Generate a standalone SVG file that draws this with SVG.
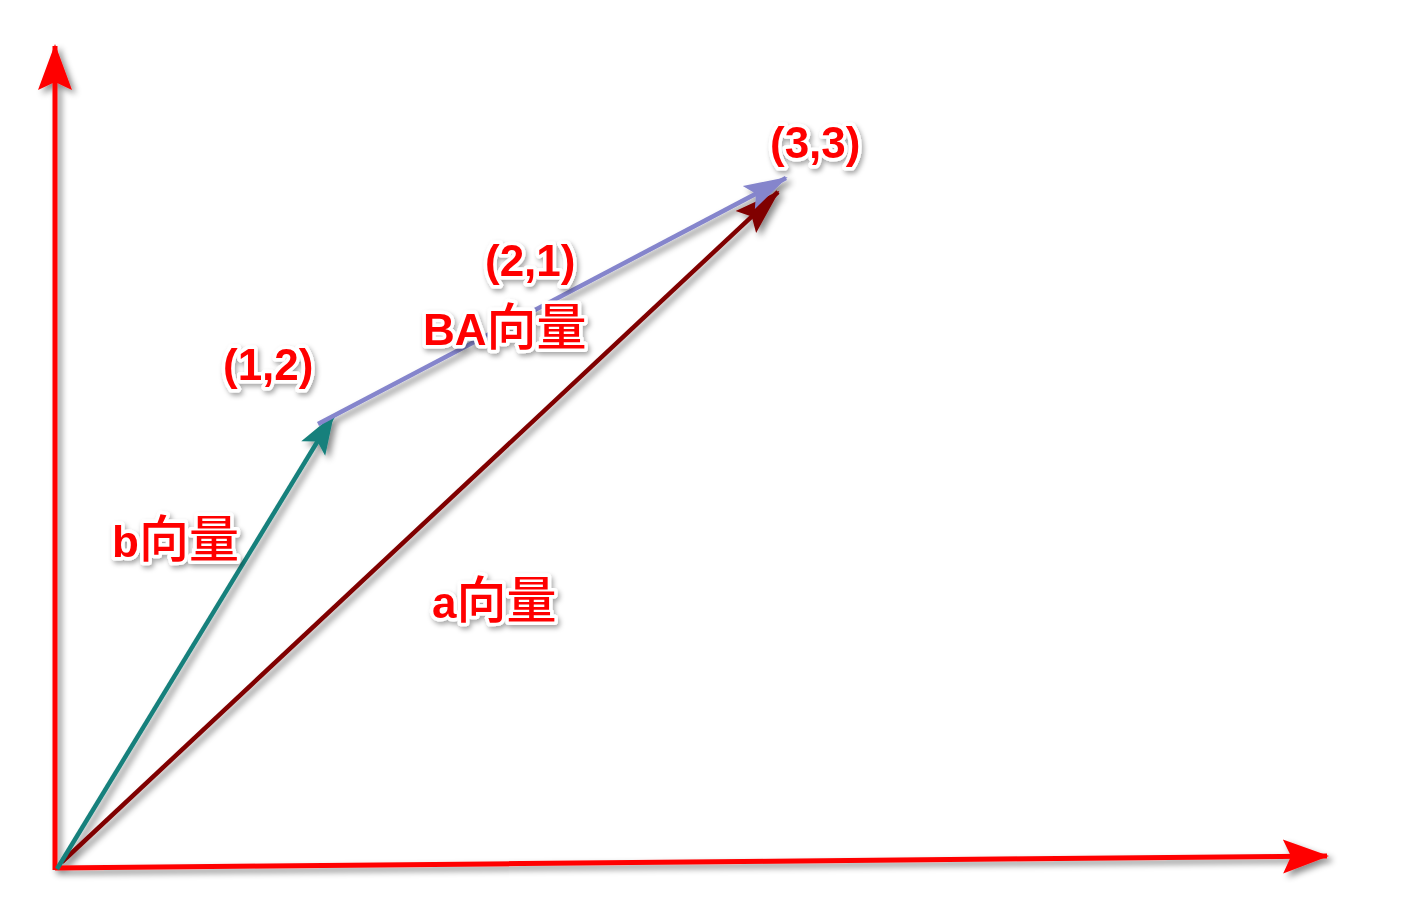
<svg xmlns="http://www.w3.org/2000/svg" width="1402" height="901" viewBox="0 0 1402 901">
<style>
.lbl{font-family:"Liberation Sans","Noto Sans CJK SC",sans-serif;font-weight:bold;font-size:44px;fill:#ff0000;stroke:#ffffff;stroke-width:7;stroke-linejoin:round;paint-order:stroke;filter:url(#ts)}
.cjk{font-family:"Noto Sans CJK SC",sans-serif;font-weight:500;font-size:50px}
.ax{stroke:#ff0000;stroke-width:5;fill:none}
.vec{stroke-width:4.5;fill:none}
</style>
<defs>
<filter id="sh" x="-20%" y="-20%" width="140%" height="140%">
<feDropShadow dx="4" dy="4" stdDeviation="3" flood-color="#000" flood-opacity="0.45"/>
</filter>
<filter id="ts" x="-20%" y="-30%" width="140%" height="160%">
<feDropShadow dx="2" dy="3" stdDeviation="2.5" flood-color="#000" flood-opacity="0.35"/>
</filter>
<marker id="mRed" markerUnits="userSpaceOnUse" viewBox="-50 -20 52 40" refX="0" refY="0" markerWidth="52" markerHeight="40" orient="auto" overflow="visible">
<path d="M2,0 L-44,-17 L-36,0 L-44,17 Z" fill="#ff0000"/>
</marker>
<marker id="mTeal" markerUnits="userSpaceOnUse" viewBox="-50 -20 52 40" refX="0" refY="0" markerWidth="52" markerHeight="40" orient="auto" overflow="visible">
<path d="M2,0 L-38,-14 L-30,0 L-38,14 Z" fill="#17807c"/>
</marker>
<marker id="mDark" markerUnits="userSpaceOnUse" viewBox="-50 -20 52 40" refX="0" refY="0" markerWidth="52" markerHeight="40" orient="auto" overflow="visible">
<path d="M2,0 L-44,-15 L-36,0 L-44,15 Z" fill="#800000"/>
</marker>
<marker id="mPur" markerUnits="userSpaceOnUse" viewBox="-50 -20 52 40" refX="0" refY="0" markerWidth="52" markerHeight="40" orient="auto" overflow="visible">
<path d="M2,0 L-42,-13 L-34,0 L-42,13 Z" fill="#8585cc"/>
</marker>
</defs>
<rect width="1402" height="901" fill="#ffffff"/>
<g id="connectors" filter="url(#sh)">
<line id="yaxis" class="ax" x1="55" y1="870" x2="55" y2="46" marker-end="url(#mRed)"/>
<line id="xaxis" class="ax" x1="55" y1="868" x2="1327" y2="856" marker-end="url(#mRed)"/>
<line id="avec" class="vec" stroke="#800000" x1="62" y1="862" x2="778" y2="192" marker-end="url(#mDark)"/>
<line id="bvec" class="vec" stroke="#17807c" x1="57" y1="869" x2="333" y2="416" marker-end="url(#mTeal)"/>
<line id="bavec" class="vec" stroke="#8585cc" x1="318" y1="424" x2="786" y2="178" marker-end="url(#mPur)"/>
</g>
<g id="label-33"><text class="lbl" x="770" y="158">(3,3)</text></g>
<g id="label-21"><text class="lbl" x="485" y="276">(2,1)</text></g>
<g id="label-12"><text class="lbl" x="223" y="380">(1,2)</text></g>
<g id="label-ba"><text class="lbl" x="423" y="345">BA<tspan class="cjk">向量</tspan></text></g>
<g id="label-b"><text class="lbl" x="112" y="557">b<tspan class="cjk">向量</tspan></text></g>
<g id="label-a"><text class="lbl" x="432" y="618">a<tspan class="cjk">向量</tspan></text></g>
</svg>
